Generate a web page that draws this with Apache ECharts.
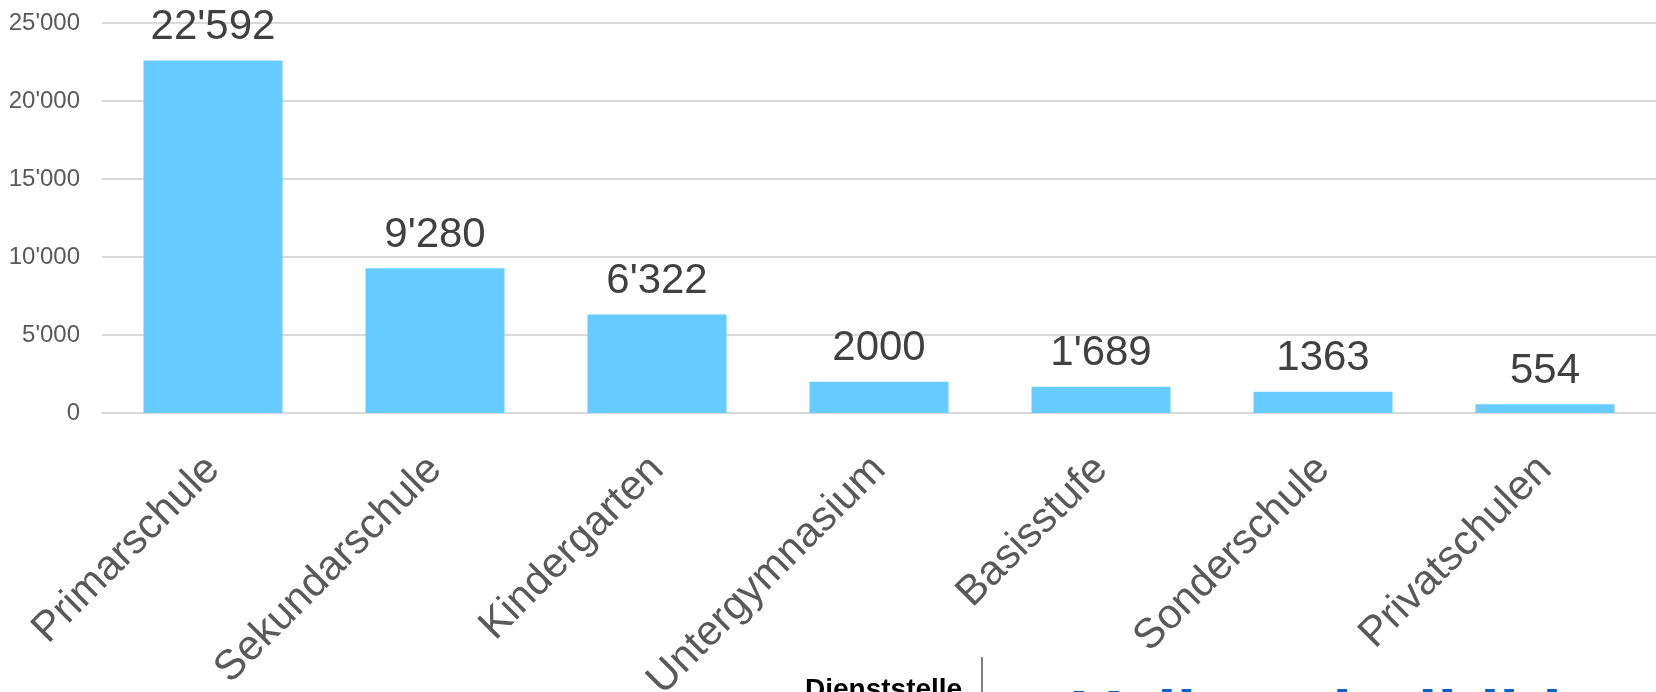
<!DOCTYPE html>
<html>
<head>
<meta charset="utf-8">
<script src="https://cdn.jsdelivr.net/npm/echarts@6/dist/echarts.min.js"></script>
<style>
  html, body { margin: 0; padding: 0; background: #fff; }
  #chart { width: 1656px; height: 692px; }
</style>
</head>
<body>
<div id="chart"></div>
<script>
const categories = ['Primarschule', 'Sekundarschule', 'Kindergarten', 'Untergymnasium', 'Basisstufe', 'Sonderschule', 'Privatschulen'];
const values = [22592, 9280, 6322, 2000, 1689, 1363, 554];
const valueLabels = ["22'592", "9'280", "6'322", '2000', "1'689", '1363', '554'];
const yTicks = [0, 5000, 10000, 15000, 20000, 25000];
const yTickLabels = ['0', "5'000", "10'000", "15'000", "20'000", "25'000"];

const font = 'Arial, "Liberation Sans", sans-serif';
const chart = echarts.init(document.getElementById('chart'));

chart.setOption({
  animation: false,
  grid: { left: 102, right: 0, top: 23, bottom: 279, containLabel: false, outerBoundsMode: 'none' },
  xAxis: {
    type: 'category',
    data: categories,
    axisLine: { show: true, lineStyle: { color: '#d9d9d9', width: 2 } },
    axisTick: { show: false },
    axisLabel: {
      rotate: 45,
      margin: 50,
      interval: 0,
      fontSize: 42,
      fontFamily: font,
      color: '#595959'
    }
  },
  yAxis: {
    type: 'value',
    min: 0,
    max: 25000,
    interval: 5000,
    axisLine: { show: false },
    axisTick: { show: false },
    splitLine: { lineStyle: { color: '#d9d9d9', width: 2 } },
    axisLabel: {
      margin: 22,
      fontSize: 24,
      fontFamily: font,
      color: '#595959',
      formatter: v => yTickLabels[yTicks.indexOf(v)]
    }
  },
  series: [{
    type: 'bar',
    data: values,
    barWidth: 139,
    itemStyle: { color: '#66ccff' },
    label: {
      show: true,
      position: 'top',
      distance: 12,
      fontSize: 42,
      fontFamily: font,
      color: '#404040',
      formatter: p => valueLabels[p.dataIndex]
    }
  }],
  graphic: [
    {
      type: 'text',
      left: 805,
      top: 676,
      style: { text: 'Dienststelle', font: 'bold 28px Arial, "Liberation Sans", sans-serif', fill: '#000' }
    },
    {
      type: 'line',
      shape: { x1: 982, y1: 657, x2: 982, y2: 692 },
      style: { stroke: '#000', lineWidth: 1 }
    },
    {
      type: 'text',
      left: 1073,
      top: 686,
      style: { text: 'Volksschulbildung', font: 'bold 70px Arial, "Liberation Sans", sans-serif', fill: '#0863c8' }
    }
  ]
});
</script>
</body>
</html>
